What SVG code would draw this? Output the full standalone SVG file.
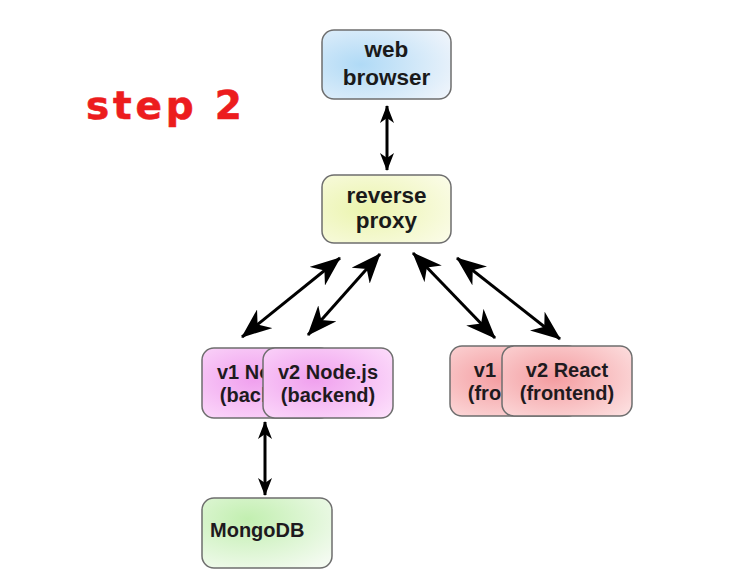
<svg xmlns="http://www.w3.org/2000/svg" width="729" height="575" viewBox="0 0 729 575">
<style>
.box{stroke:#6e6e6e;stroke-width:1.5}
.t1{font-family:"Liberation Sans",Arial,sans-serif;font-weight:bold;font-size:22.5px;fill:#1a1a1a;text-anchor:middle}
.t2{font-family:"Liberation Sans",Arial,sans-serif;font-weight:bold;font-size:20px;fill:#1e1a1e;text-anchor:middle}
.c{stroke:#000;stroke-width:3;fill:none}
.cs{marker-start:url(#hs);marker-end:url(#hs)}
.cl{marker-start:url(#hl);marker-end:url(#hl)}
</style>
<defs>
<radialGradient id="gBlue" cx="0.3" cy="0.5" r="0.8"><stop offset="0" stop-color="#b0daf6"/><stop offset="1" stop-color="#eef4fb"/></radialGradient>
<radialGradient id="gYel" cx="0.35" cy="0.5" r="0.8"><stop offset="0" stop-color="#ebf4ae"/><stop offset="1" stop-color="#fbfce9"/></radialGradient>
<radialGradient id="gPink" cx="0.4" cy="0.45" r="0.8"><stop offset="0" stop-color="#f0a0ee"/><stop offset="1" stop-color="#fde2fc"/></radialGradient>
<radialGradient id="gRed" cx="0.4" cy="0.45" r="0.8"><stop offset="0" stop-color="#f49ca0"/><stop offset="1" stop-color="#fde3e3"/></radialGradient>
<radialGradient id="gGreen" cx="0.35" cy="0.3" r="0.85"><stop offset="0" stop-color="#c2efb0"/><stop offset="1" stop-color="#f4fbf1"/></radialGradient>
<clipPath id="clipNode"><rect x="200" y="346" width="63" height="74"/></clipPath>
<clipPath id="clipReact"><rect x="448" y="344" width="54" height="74"/></clipPath>
<marker id="hs" viewBox="0 0 18 14" refX="17" refY="7" markerWidth="18" markerHeight="14" markerUnits="userSpaceOnUse" orient="auto-start-reverse"><path d="M0,0 L18,7 L0,14 L5,7 Z" fill="#000"/></marker>
<marker id="hl" viewBox="0 0 30 24" refX="29" refY="12" markerWidth="30" markerHeight="24" markerUnits="userSpaceOnUse" orient="auto-start-reverse"><path d="M0,0 L30,12 L0,24 L9,12 Z" fill="#000"/></marker>
</defs>
<rect width="729" height="575" fill="#fff"/>
<text x="86" y="119" font-family="'DejaVu Sans','Liberation Sans',sans-serif" font-weight="bold" font-size="39" fill="#ec1c1e" stroke="#ec1c1e" stroke-width="0.6" textLength="156" lengthAdjust="spacing">step 2</text>
<g id="connectors">
<line class="c cs" x1="387" y1="106" x2="387" y2="170"/>
<line class="c cl" x1="242" y1="337" x2="340" y2="258"/>
<line class="c cl" x1="308" y1="335" x2="380" y2="254"/>
<line class="c cl" x1="413" y1="253" x2="495" y2="338"/>
<line class="c cl" x1="457" y1="258" x2="560" y2="339"/>
<line class="c cs" x1="265" y1="422" x2="265" y2="495"/>
</g>
<g id="web-browser">
<rect class="box" x="322" y="30" width="129" height="69" rx="12" fill="url(#gBlue)"/>
<text class="t1" x="386.5" y="57">web</text>
<text class="t1" x="386.5" y="85">browser</text>
</g>
<g id="reverse-proxy">
<rect class="box" x="322" y="175" width="129" height="68" rx="12" fill="url(#gYel)"/>
<text class="t1" x="386.5" y="203">reverse</text>
<text class="t1" x="386.5" y="228">proxy</text>
</g>
<g id="v1-node">
<rect class="box" x="202" y="348" width="130" height="70" rx="12" fill="url(#gPink)"/>
<g clip-path="url(#clipNode)">
<text class="t2" x="267" y="379">v1 Node.js</text>
<text class="t2" x="267" y="402">(backend)</text>
</g>
</g>
<g id="v2-node">
<rect class="box" x="263" y="348" width="130" height="70" rx="12" fill="url(#gPink)"/>
<text class="t2" x="328" y="379">v2 Node.js</text>
<text class="t2" x="328" y="402">(backend)</text>
</g>
<g id="v1-react">
<rect class="box" x="450" y="346" width="130" height="70" rx="12" fill="url(#gRed)"/>
<g clip-path="url(#clipReact)">
<text class="t2" x="515" y="377">v1 React</text>
<text class="t2" x="515" y="400">(frontend)</text>
</g>
</g>
<g id="v2-react">
<rect class="box" x="502" y="346" width="130" height="70" rx="12" fill="url(#gRed)"/>
<text class="t2" x="567" y="377">v2 React</text>
<text class="t2" x="567" y="400">(frontend)</text>
</g>
<g id="mongodb">
<rect class="box" x="202" y="498" width="130" height="70" rx="12" fill="url(#gGreen)"/>
<text class="t2" x="210" y="537" style="text-anchor:start">MongoDB</text>
</g>
</svg>
